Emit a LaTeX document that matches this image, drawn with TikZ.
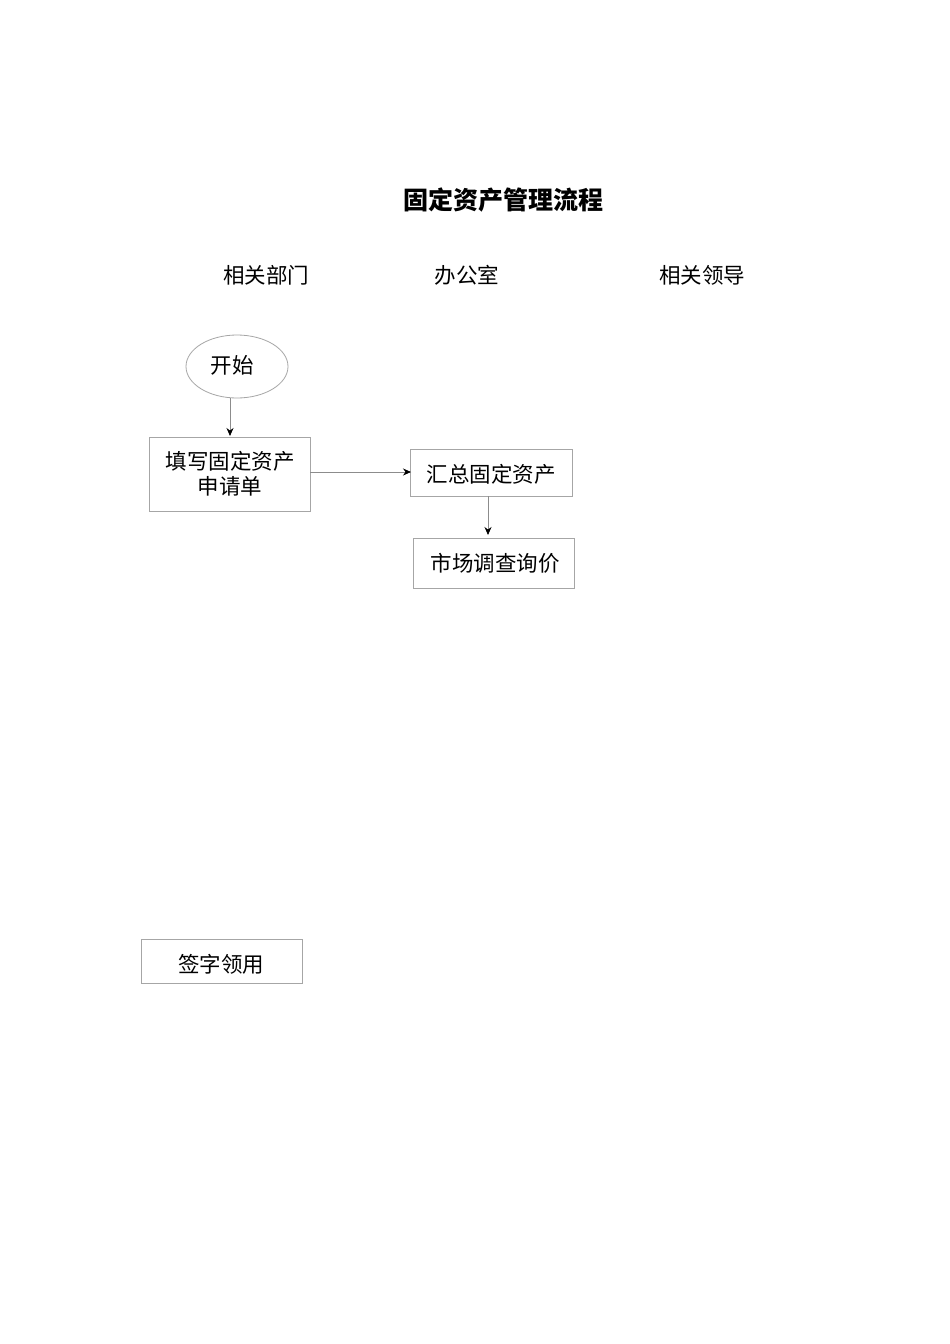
\documentclass[tikz,border=0pt]{standalone}
\usepackage{fontspec}
\setmainfont{Liberation Serif}
\newfontfamily\cjk{Noto Sans CJK SC}
\usetikzlibrary{arrows.meta}
\begin{document}
\begin{tikzpicture}[x=1pt,y=-1pt,
  every node/.style={font=\cjk\fontsize{21.5}{25}\selectfont, inner sep=0pt},
  procbox/.style={draw=black!35, line width=0.8pt, fill=white},
  conn/.style={draw=black!45, line width=0.8pt, -{Stealth[black,length=8pt,width=7pt]}},
  hdr/.style={font=\cjk\fontsize{21.5}{25}\selectfont},
  ttl/.style={font=\cjk\bfseries\fontsize{25}{30}\selectfont}]
\useasboundingbox[fill=white] (0,0) rectangle (950,1344);
\node[ttl] (title) at (503,200) {固定资产管理流程};
\node[hdr] (h1) at (266,275) {相关部门};
\node[hdr] (h2) at (467,275) {办公室};
\node[hdr] (h3) at (702,275) {相关领导};
% shapes
\draw[draw=black!35, line width=0.8pt] (237,366.5) ellipse [x radius=51, y radius=31.5];
\node (start) at (237,366.5) [minimum width=102pt, minimum height=63pt] {};
\node at (232,365) {开始};
\draw[procbox] (149,437) rectangle (310,511);
\node (b1) at (229.5,474) [minimum width=161pt, minimum height=74pt] {};
\node[align=center, font=\cjk\fontsize{21.5}{25}\selectfont] at (230,474) {填写固定资产\\申请单};
\draw[procbox] (410,449) rectangle (572,496);
\node (b2) at (491,472.5) [minimum width=162pt, minimum height=47pt] {};
\node at (491,474) {汇总固定资产};
\draw[procbox] (413,538) rectangle (574,588);
\node (b3) at (493.5,563) [minimum width=161pt, minimum height=50pt] {};
\node at (495,563) {市场调查询价};
\draw[procbox] (141,939) rectangle (302,983);
\node (b4) at (221.5,961) [minimum width=161pt, minimum height=44pt] {};
\node at (221,964) {签字领用};
% connectors
\coordinate (s1) at (230,398);
\coordinate (e1) at (230,436);
\draw[conn] (s1) -- (e1);
\coordinate (s2) at (310,472);
\coordinate (e2) at (411,472);
\draw[conn] (s2) -- (e2);
\coordinate (s3) at (488,496);
\coordinate (e3) at (488,535);
\draw[conn] (s3) -- (e3);
\end{tikzpicture}
\end{document}
